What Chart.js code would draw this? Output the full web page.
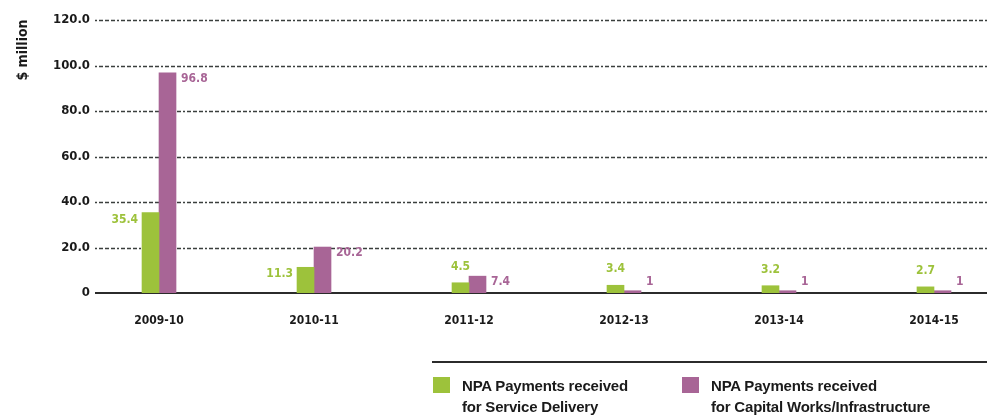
<!DOCTYPE html>
<html>
<head>
<meta charset="utf-8">
<script src="https://cdn.jsdelivr.net/npm/chart.js@4"></script>
<style>
  html, body { margin: 0; padding: 0; background: #fff; overflow: hidden; }
  #wrap { position: relative; width: 987px; height: 419px; overflow: hidden; }
  #grafico { position: absolute; left: 0; top: 0; }
  .leyenda-linea { position: absolute; left: 432px; top: 361px; width: 555px; height: 2px; background: #2b2b2b; }
  .leyenda-item { position: absolute; top: 376px; white-space: nowrap; }
  .leyenda-cuadro { position: absolute; left: 0; top: 1px; width: 17px; height: 16px; }
  .leyenda-texto { position: absolute; left: 29px; top: -1px; font: bold 15px 'Liberation Sans', Arial, sans-serif; line-height: 21px; color: #1a1a1a; letter-spacing: -0.2px; }
</style>
</head>
<body>
<div id="wrap">
  <canvas id="grafico" width="987" height="419"></canvas>
  <div class="leyenda-linea"></div>
  <div class="leyenda-item" style="left:433px">
    <div class="leyenda-cuadro" style="background:#9dc23b"></div>
    <div class="leyenda-texto">NPA Payments received<br>for Service Delivery</div>
  </div>
  <div class="leyenda-item" style="left:682px">
    <div class="leyenda-cuadro" style="background:#a86596"></div>
    <div class="leyenda-texto">NPA Payments received<br>for Capital Works/Infrastructure</div>
  </div>
</div>
<script>
// Años fiscales y pagos (millones de dólares)
const anios = ['2009-10', '2010-11', '2011-12', '2012-13', '2013-14', '2014-15'];
const pagosServicio = [35.4, 11.3, 4.5, 3.4, 3.2, 2.7];
const pagosCapital = [96.8, 20.2, 7.4, 1, 1, 1];
const marcasEjeY = [0, 20, 40, 60, 80, 100, 120];

const VERDE = '#9dc23b';
const MORADO = '#a86596';
const FUENTE = "'Liberation Sans Narrow', 'DejaVu Sans Condensed', 'Liberation Sans', sans-serif";

// Líneas de guía punteadas y línea base
const lineasGuia = {
  id: 'lineasGuia',
  beforeDatasetsDraw(chart) {
    const { ctx, chartArea, scales } = chart;
    ctx.save();
    marcasEjeY.forEach(v => {
      const y = Math.round(scales.y.getPixelForValue(v));
      ctx.beginPath();
      if (v === 0) {
        ctx.setLineDash([]);
        ctx.lineWidth = 2.2;
        ctx.strokeStyle = '#2b2b2b';
        ctx.moveTo(chartArea.left, y);
        ctx.lineTo(chartArea.right, y);
      } else {
        ctx.setLineDash([2, 2, 4, 2, 4, 2, 4, 2]);
        ctx.lineWidth = 1.6;
        ctx.strokeStyle = '#3a3f3d';
        ctx.moveTo(chartArea.left, y + 0.5);
        ctx.lineTo(chartArea.right, y + 0.5);
      }
      ctx.stroke();
    });
    ctx.restore();
  }
};

// Valores junto a cada barra
const etiquetasValor = {
  id: 'etiquetasValor',
  afterDatasetsDraw(chart) {
    const { ctx, scales } = chart;
    const base = scales.y.getPixelForValue(0);
    ctx.save();
    ctx.font = 'bold 12px ' + FUENTE;
    ctx.textBaseline = 'middle';
    chart.getDatasetMeta(0).data.forEach((barra, i) => {
      const v = pagosServicio[i];
      ctx.fillStyle = VERDE;
      if (v > 10) {
        ctx.textAlign = 'right';
        ctx.fillText(v.toFixed(1), barra.x - barra.width / 2 - 4, barra.y + 7);
      } else {
        ctx.textAlign = 'center';
        ctx.fillText(v.toFixed(1), barra.x, barra.y - 16);
      }
    });
    chart.getDatasetMeta(1).data.forEach((barra, i) => {
      const v = pagosCapital[i];
      const texto = Number.isInteger(v) ? String(v) : v.toFixed(1);
      ctx.fillStyle = MORADO;
      ctx.textAlign = 'left';
      ctx.fillText(texto, barra.x + barra.width / 2 + 5, Math.min(barra.y + 6, base - 11));
    });
    ctx.restore();
  }
};

// Título vertical del eje Y
const tituloEje = {
  id: 'tituloEje',
  afterDraw(chart) {
    const { ctx } = chart;
    ctx.save();
    ctx.translate(23, 50);
    ctx.rotate(-Math.PI / 2);
    ctx.font = 'bold 14px ' + FUENTE;
    ctx.fillStyle = '#1a1a1a';
    ctx.textAlign = 'center';
    ctx.textBaseline = 'middle';
    ctx.fillText('$ million', 0, 0);
    ctx.restore();
  }
};

new Chart(document.getElementById('grafico'), {
  type: 'bar',
  data: {
    datasets: [{
      label: 'NPA Payments received for Service Delivery',
      data: pagosServicio.map((v, i) => ({ x: i, y: v })),
      backgroundColor: VERDE,
      barThickness: 17
    }, {
      label: 'NPA Payments received for Capital Works/Infrastructure',
      data: pagosCapital.map((v, i) => ({ x: i, y: v })),
      backgroundColor: MORADO,
      barThickness: 17
    }]
  },
  options: {
    responsive: false,
    animation: false,
    layout: { padding: { top: 20, right: 0, bottom: 91, left: 0 } },
    plugins: {
      legend: { display: false },
      tooltip: { enabled: false }
    },
    scales: {
      x: {
        type: 'linear',
        offset: false,
        min: -0.413,
        max: 5.342,
        grid: { display: false, drawTicks: false },
        border: { display: false },
        ticks: {
          stepSize: 1,
          includeBounds: false,
          autoSkip: false,
          maxRotation: 0,
          padding: 21,
          color: '#1a1a1a',
          font: { family: FUENTE, size: 12, weight: 'bold' },
          callback: v => Number.isInteger(v) && anios[v] ? anios[v] : ''
        },
        afterFit(escala) { escala.height = 35; }
      },
      y: {
        min: 0,
        max: 120,
        grid: { display: false, drawTicks: false },
        border: { display: false },
        ticks: {
          stepSize: 20,
          padding: 5,
          color: '#1a1a1a',
          font: { family: FUENTE, size: 13, weight: 'bold' },
          callback: v => v === 0 ? '0' : v.toFixed(1)
        },
        afterFit(escala) { escala.width = 95; }
      }
    }
  },
  plugins: [lineasGuia, etiquetasValor, tituloEje]
});
</script>
</body>
</html>
